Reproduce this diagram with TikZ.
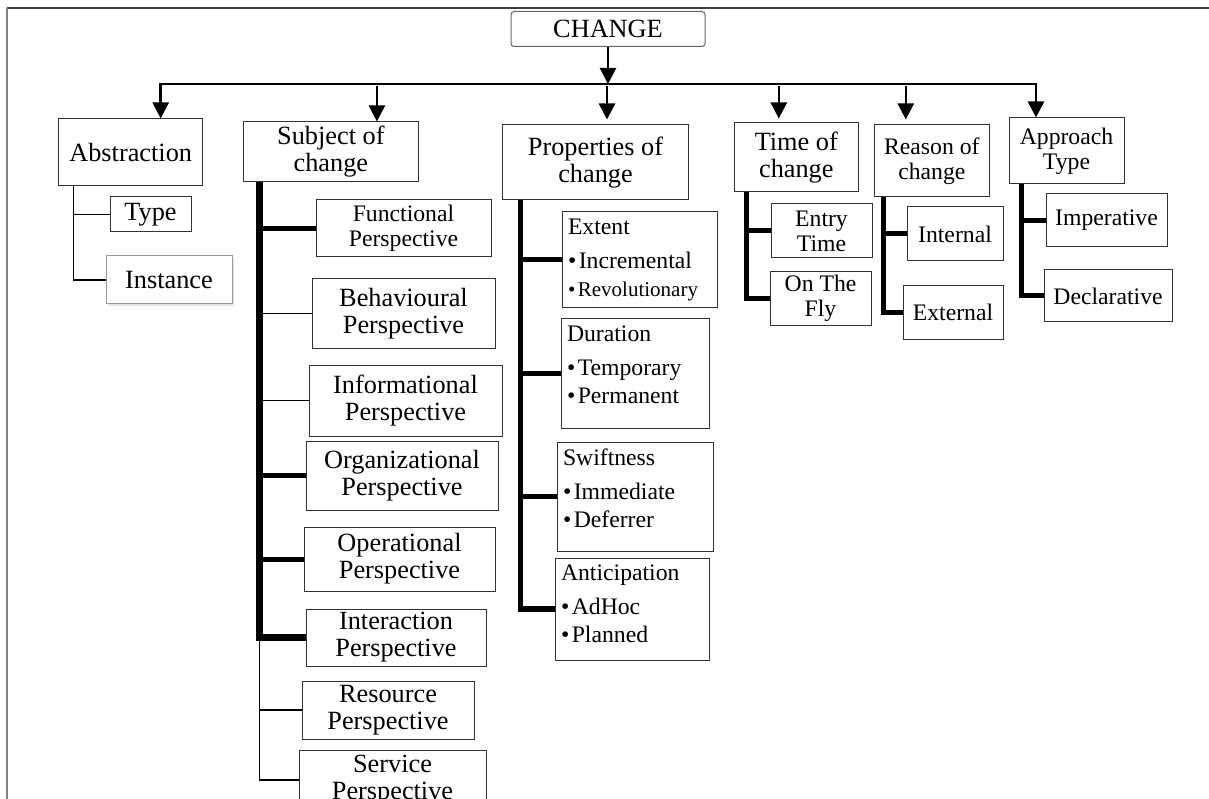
\documentclass[tikz,border=0pt]{standalone}
\usepackage{fontspec}
\setmainfont{Liberation Serif}
\usetikzlibrary{arrows.meta,shadows}

\newcommand\fbig{\fontsize{26.3}{27}\selectfont}
\newcommand\fmid{\fontsize{23.7}{25}\selectfont}
\newcommand\fsm{\fontsize{21}{23}\selectfont}
\newcommand\plist[3]{\parbox[t][\dimexpr#2pt-14pt\relax][t]{\dimexpr#1pt-12pt\relax}{\raggedright\fontsize{23.7}{28.5}\selectfont #3}}

\tikzset{
  bx/.style={draw=black!80, line width=1pt, inner sep=0pt, align=center, fill=white},
  lst/.style={bx, inner xsep=6pt, inner ysep=7pt},
  wh/.style 2 args={minimum width=#1pt, minimum height=#2pt},
  arr/.style={line width=2.5pt, -{Triangle[width=16pt,length=16pt]}},
  thk/.style={line width=5pt},
  thn/.style={line width=1.1pt}
}

\begin{document}
\begin{tikzpicture}[x=1pt,y=-1pt]
    \useasboundingbox (0,0) rectangle (1209,799);
    \clip (0,0) rectangle (1209,799);
    \draw[black!75, line width=1.3pt] (7,8) -- (1209,8);
    \draw[black!50, line width=1.8pt] (7,8) -- (7,799);

    \node[bx, wh={194}{35}, rounded corners=3pt, draw=black!60, font=\fbig] (chg) at (608,29) {CHANGE};

    \node[bx, wh={144}{67}, font=\fbig] (abs) at (130.7,152.5) {Abstraction};
    \node[bx, wh={175}{60}, font=\fbig] (subj) at (330.9,152) {Subject of\\change};
    \node[bx, wh={186}{75}, font=\fbig] (prop) at (595.5,162.5) {Properties of\\change};
    \node[bx, wh={124.6}{69}, font=\fbig] (time) at (796.3,157.5) {Time of\\change};
    \node[bx, wh={115.5}{72}, font=\fmid] (reas) at (931.8,161) {Reason of\\change};
    \node[bx, wh={115}{66}, font=\fmid] (appr) at (1066.5,151) {Approach\\Type};

    \coordinate (busL) at (160.7,84);
    \coordinate (busR) at (1036,84);
    \draw[arr] (chg.south) -- (chg.south |- busL);
    \draw[line width=2.5pt, {Triangle[width=16pt,length=16pt]}-{Triangle[width=16pt,length=16pt]}]
      (busL |- abs.north) -- (busL) -- (busR) -- (busR |- appr.north);
    \foreach \n/\dx/\gap in {subj/46/0, prop/11.5/5, time/-17.5/4, reas/-26/5}{
      \coordinate (t\n) at ([xshift=\dx pt]\n.north);
      \draw[arr, shorten >=\gap pt] (t\n |- busL) ++(0,2.5) -- (t\n);
    }

    \node[bx, wh={81}{35}, font=\fbig] (type) at (150.5,214.5) {Type};
    \node[bx, wh={126}{48}, font=\fbig, draw=black!40,
      drop shadow={shadow xshift=2pt, shadow yshift=-2.5pt, opacity=0.2}] (inst) at (169,280) {Instance};
    \coordinate (stemA) at ([xshift=15pt]abs.south west);
    \draw[thn] (stemA) |- (inst.west);
    \draw[thn] (stemA |- type.west) -- (type.west);

    \foreach \n/\x/\y/\w/\h/\f/\t in {
        func/403.5/228.5/175/57/\fmid/Functional,
        beh/403.5/313.5/183/69/\fbig/Behavioural,
        info/405.5/400.5/193/71/\fbig/Informational,
        org/402/475.5/192/69/\fbig/Organizational,
        oper/399.5/559/191/64/\fbig/Operational,
        inter/396/637.5/180/57/\fbig/Interaction,
        res/388/710/172/58/\fbig/Resource,
        serv/392.5/780/187/60/\fbig/Service}{
      \node[bx, wh={\w}{\h}, font=\f] (\n) at (\x,\y) {\t\\Perspective};
    }
    \coordinate (stemS) at ([xshift=16.6pt]subj.south west);
    \draw[thk, line width=6.5pt] (stemS) |- (inter.west);
    \foreach \n in {func,org,oper}
      \draw[thk] (stemS |- \n.west) -- (\n.west);
    \draw[thn] (stemS |- inter.west) |- (serv.west);
    \foreach \n in {beh,info,res}
      \draw[thn] (stemS |- \n.west) -- (\n.west);

    \node[lst] (pExt) at (639.5,260) {\plist{155}{96}{Extent\\[5pt]\textbullet\hspace{2.5pt}Incremental\\{\fsm\textbullet\hspace{2.5pt}Revolutionary}}};
    \node[lst] (pDur) at (635,373.5) {\plist{148}{109}{Duration\\[5pt]\textbullet\hspace{2.5pt}Temporary\\\textbullet\hspace{2.5pt}Permanent}};
    \node[lst] (pSwi) at (635,496.5) {\plist{156}{109}{Swiftness\\[5pt]\textbullet\hspace{2.5pt}Immediate\\\textbullet\hspace{2.5pt}Deferrer}};
    \node[lst] (pAnt) at (632,609) {\plist{154}{102}{Anticipation\\[5pt]\textbullet\hspace{2.5pt}AdHoc\\\textbullet\hspace{2.5pt}Planned}};
    \coordinate (stemP) at ([xshift=18.5pt]prop.south west);
    \draw[thk, line width=5.5pt] (stemP) |- (pAnt.west);
    \foreach \n in {pExt,pDur,pSwi}
      \draw[thk] (stemP |- \n.west) -- (\n.west);

    \node[bx, wh={101}{54}, font=\fmid] (tEntry) at (821.5,231) {Entry\\Time};
    \node[bx, wh={101}{53}, font=\fmid] (tFly) at (820.5,298.5) {On The\\Fly};
    \coordinate (stemT) at ([xshift=13pt]time.south west);
    \draw[thk] (stemT) |- (tFly.west);
    \draw[thk] (stemT |- tEntry.west) -- (tEntry.west);

    \node[bx, wh={96}{54}, font=\fmid] (rInt) at (955,234) {Internal};
    \node[bx, wh={100}{53}, font=\fmid] (rExt) at (953,312.5) {External};
    \coordinate (stemR) at ([xshift=10pt]reas.south west);
    \draw[thk] (stemR) |- (rExt.west);
    \draw[thk] (stemR |- rInt.west) -- (rInt.west);

    \node[bx, wh={121}{53}, font=\fmid] (aImp) at (1106.5,220.5) {Imperative};
    \node[bx, wh={128}{52}, font=\fmid] (aDec) at (1108,296) {Declarative};
    \coordinate (stemAp) at ([xshift=13pt]appr.south west);
    \draw[thk] (stemAp) |- (aDec.west);
    \draw[thk] (stemAp |- aImp.west) -- (aImp.west);
\end{tikzpicture}
\end{document}
